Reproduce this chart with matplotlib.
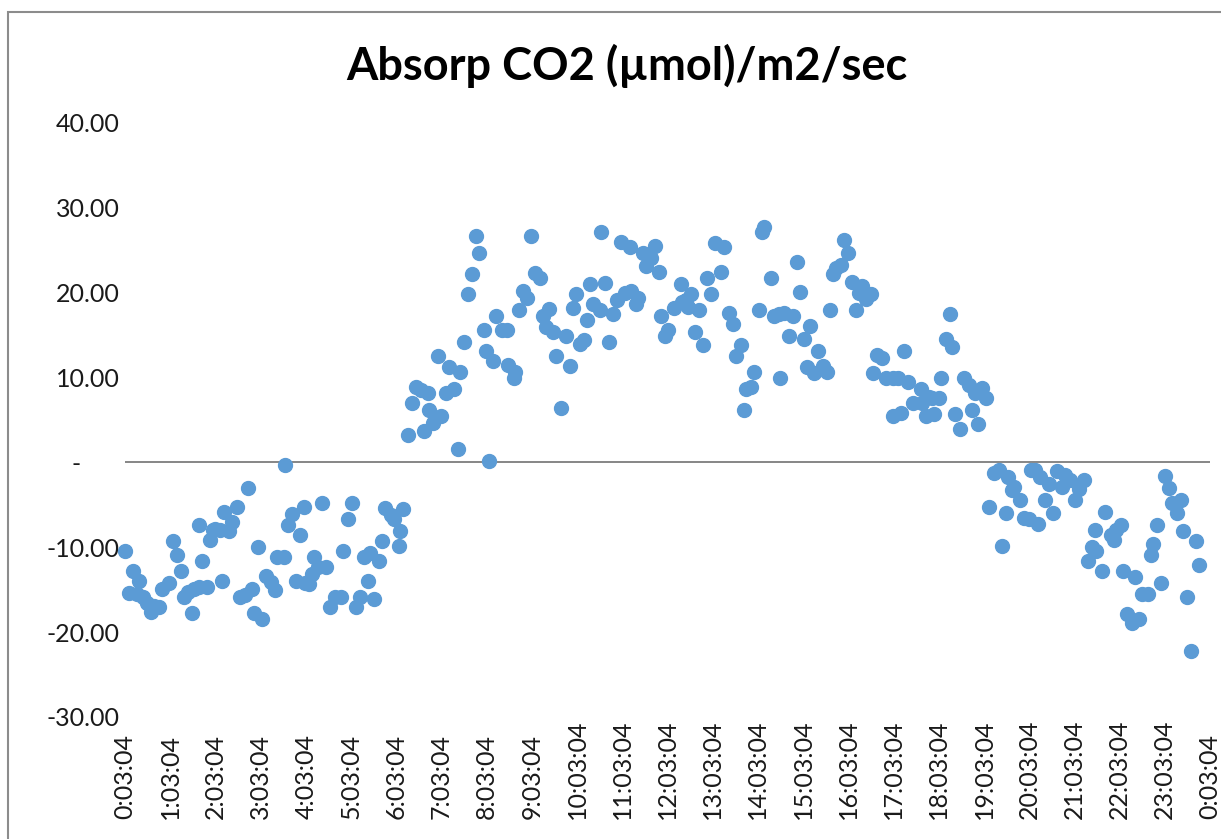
import numpy as np
import matplotlib.pyplot as plt
from matplotlib.patches import Rectangle
from matplotlib.ticker import FixedLocator, FuncFormatter, NullFormatter

plt.rcParams['font.family'] = ['Lato', 'DejaVu Sans']

# hours elapsed since the first sample (0:03:04) and CO2 absorption values
hours = [
    0.00, 0.09, 0.18, 0.26, 0.31, 0.40, 0.49, 0.57, 0.65, 0.75, 0.82, 0.97,
    1.06, 1.14, 1.23, 1.30, 1.39, 1.49, 1.52, 1.63, 1.64, 1.71, 1.82, 1.88, 1.95,
    2.00, 2.11, 2.15, 2.20, 2.31, 2.37, 2.47, 2.54, 2.66, 2.73, 2.81, 2.86, 2.94,
    3.03, 3.12, 3.22, 3.31, 3.36, 3.51, 3.53, 3.60, 3.69, 3.78, 3.88, 3.95, 3.99,
    4.06, 4.13, 4.19, 4.28, 4.36, 4.45, 4.54, 4.65, 4.77, 4.82, 4.93,
    5.02, 5.11, 5.20, 5.29, 5.37, 5.42, 5.51, 5.61, 5.68, 5.75, 5.88, 5.95,
    6.05, 6.09, 6.16, 6.25, 6.34, 6.43, 6.55, 6.62, 6.70, 6.73, 6.82, 6.92, 6.99,
    7.10, 7.17, 7.28, 7.36, 7.41, 7.50, 7.58, 7.67, 7.76, 7.84, 7.94, 7.98,
    8.06, 8.15, 8.21, 8.33, 8.44, 8.48, 8.60, 8.63, 8.72, 8.81, 8.90, 8.99,
    9.07, 9.18, 9.24, 9.31, 9.38, 9.47, 9.54, 9.65, 9.75, 9.84, 9.91, 9.97,
    10.07, 10.15, 10.23, 10.28, 10.35, 10.50, 10.53, 10.62, 10.71, 10.79, 10.89, 10.97,
    11.05, 11.16, 11.20, 11.30, 11.35, 11.46, 11.53, 11.64, 11.72, 11.81, 11.86, 11.94,
    12.01, 12.14, 12.30, 12.32, 12.41, 12.45, 12.52, 12.60, 12.69, 12.78, 12.87, 12.97,
    13.06, 13.19, 13.26, 13.36, 13.44, 13.52, 13.63, 13.70, 13.74, 13.85, 13.92,
    14.02, 14.09, 14.14, 14.28, 14.36, 14.47, 14.48, 14.58, 14.68, 14.77, 14.86, 14.94,
    15.03, 15.09, 15.16, 15.25, 15.34, 15.43, 15.53, 15.60, 15.67, 15.72, 15.84, 15.91,
    16.00, 16.09, 16.18, 16.24, 16.31, 16.38, 16.50, 16.55, 16.63, 16.75, 16.83, 16.98, 16.99,
    17.09, 17.16, 17.24, 17.33, 17.42, 17.60, 17.64, 17.71, 17.79, 17.86, 17.90,
    18.01, 18.06, 18.15, 18.25, 18.30, 18.37, 18.47, 18.56, 18.67, 18.74, 18.81, 18.87, 18.96,
    19.05, 19.12, 19.22, 19.33, 19.39, 19.48, 19.54, 19.62, 19.66, 19.79, 19.88, 19.99,
    20.03, 20.14, 20.20, 20.25, 20.36, 20.44, 20.53, 20.62, 20.73, 20.80, 20.91,
    21.02, 21.10, 21.21, 21.30, 21.38, 21.46, 21.48, 21.60, 21.68, 21.80, 21.87, 21.91,
    22.04, 22.08, 22.16, 22.27, 22.35, 22.44, 22.49, 22.63, 22.70, 22.75, 22.83, 22.92,
    23.01, 23.10, 23.17, 23.27, 23.36, 23.40, 23.49, 23.59, 23.68, 23.75,
]
co2 = [
    -10.4, -15.4, -12.8, -15.5, -14.0, -15.8, -16.6, -17.6, -16.9, -17.0, -14.9, -14.2,
    -9.3, -10.9, -12.8, -15.8, -15.3, -17.7, -14.9, -14.7, -7.4, -11.6, -14.7, -9.2, -8.0,
    -7.9, -8.0, -14.0, -5.9, -8.1, -7.0, -5.3, -15.8, -15.6, -3.0, -14.9, -17.7, -10.0,
    -18.5, -13.4, -14.1, -15.0, -11.1, -11.1, -0.35, -7.4, -6.1, -14.0, -8.6, -5.3, -14.2,
    -14.3, -13.1, -11.1, -12.3, -4.8, -12.3, -17.0, -15.8, -15.8, -10.4, -6.7,
    -4.8, -17.0, -15.8, -11.1, -14.0, -10.7, -16.1, -11.6, -9.3, -5.4, -6.2, -6.7,
    -9.8, -8.1, -5.5, 3.2, 7.0, 8.9, 8.5, 3.7, 8.2, 6.2, 4.7, 12.6, 5.5,
    8.2, 11.2, 8.6, 1.6, 10.7, 14.2, 19.8, 22.2, 26.7, 24.7, 15.6, 13.1,
    0.15, 11.9, 17.3, 15.6, 15.6, 11.5, 9.9, 10.7, 18.0, 20.2, 19.4, 26.7,
    22.3, 21.7, 17.2, 16.0, 18.1, 15.4, 12.6, 6.4, 14.9, 11.4, 18.2, 19.9,
    13.9, 14.4, 16.8, 21.0, 18.7, 18.0, 27.1, 21.2, 14.2, 17.5, 19.2, 26.0,
    20.0, 25.4, 20.2, 18.7, 19.4, 24.7, 23.2, 24.1, 25.5, 22.4, 17.2, 14.9,
    15.6, 18.2, 21.0, 18.9, 19.1, 18.3, 19.9, 15.4, 18.0, 13.8, 21.7, 19.8,
    25.9, 22.5, 25.4, 17.6, 16.3, 12.6, 13.8, 6.2, 8.6, 8.9, 10.7,
    18.0, 27.2, 27.8, 21.7, 17.3, 17.5, 10.0, 17.6, 14.9, 17.3, 23.6, 20.1,
    14.5, 11.2, 16.1, 10.5, 13.1, 11.4, 10.7, 18.0, 22.2, 22.9, 23.3, 26.2,
    24.7, 21.3, 18.0, 20.0, 20.8, 19.3, 19.9, 10.5, 12.7, 12.3, 10.0, 10.0, 5.5,
    10.0, 5.8, 13.1, 9.5, 7.0, 8.6, 7.0, 5.5, 7.7, 7.6, 5.7,
    7.6, 10.0, 14.6, 17.5, 13.6, 5.7, 3.9, 10.0, 9.1, 6.2, 8.2, 4.5, 8.8,
    7.6, -5.3, -1.2, -0.9, -9.8, -6.0, -1.7, -3.3, -2.9, -4.4, -6.6, -6.7,
    -0.9, -0.9, -7.2, -1.7, -4.4, -2.5, -6.0, -1.0, -2.9, -1.5, -2.1,
    -4.4, -3.1, -2.1, -11.6, -10.0, -8.0, -10.4, -12.8, -5.9, -8.6, -9.1, -8.0,
    -7.4, -12.8, -17.9, -18.9, -13.5, -18.5, -15.5, -15.5, -10.9, -9.6, -7.4, -14.2,
    -1.6, -3.0, -4.8, -6.0, -4.4, -8.1, -15.8, -22.2, -9.3, -12.1,
]
hour_ticks = list(range(25))
hour_labels = ['%d:03:04' % (h % 24) for h in hour_ticks]
y_ticks = [-30, -20, -10, 0, 10, 20, 30, 40]

fig = plt.figure(figsize=(12.21, 8.39), dpi=100)
ax = fig.add_axes([125 / 1221, 122 / 839, 1085 / 1221, 594 / 839])

ax.scatter(hours, co2, s=100, color='#5B9BD5', edgecolors='#5B9BD5', zorder=3, clip_on=False)
ax.axhline(0, color='#868686', lw=1.4, zorder=2)

ax.set_xlim(0, 24)
ax.set_ylim(-30, 40)
for s in ax.spines.values():
    s.set_visible(False)

# x labels: rotated, start of text aligned at the same height (like excel)
ax.xaxis.set_major_locator(FixedLocator(hour_ticks))
ax.xaxis.set_major_formatter(NullFormatter())
ax.tick_params(axis='x', length=0)
for h, lab in zip(hour_ticks, hour_labels):
    ax.text(h, -0.172, lab, transform=ax.get_xaxis_transform(), rotation=90,
            ha='center', va='bottom', fontsize=18, color='#1a1a1a')

ax.yaxis.set_major_locator(FixedLocator(y_ticks))
ax.yaxis.set_major_formatter(FuncFormatter(
    lambda v, p: '-      ' if v == 0 else '%.2f' % v))
ax.tick_params(axis='y', length=0, labelsize=18, pad=4, colors='#1a1a1a')

fig.text(627 / 1221, 1 - 66 / 839, 'Absorp CO2 (µmol)/m2/sec', ha='center', va='center',
         fontsize=32.5, fontweight='bold', color='black')

fig.add_artist(Rectangle((8 / 1221, -0.1), 1.2, 1.1 - 12 / 839, transform=fig.transFigure,
                         fill=False, edgecolor='#8c8c8c', lw=1.5, clip_on=False))

fig.savefig('out.png', dpi=100)
